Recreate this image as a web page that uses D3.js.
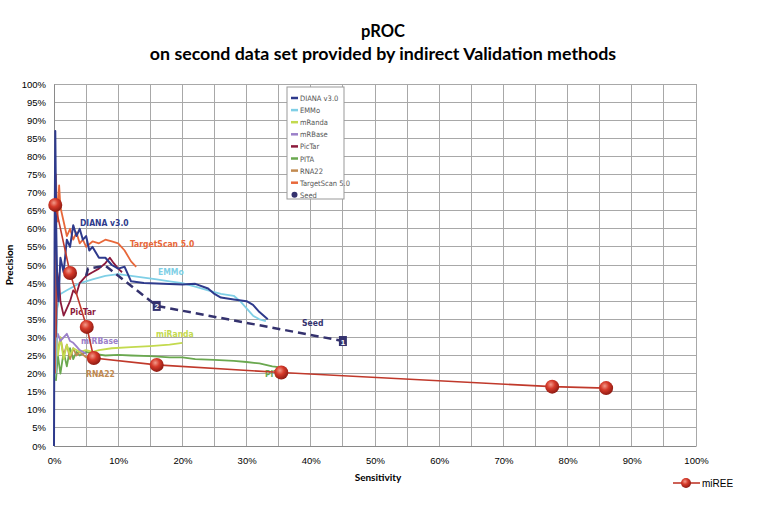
<!DOCTYPE html>
<html><head><meta charset="utf-8">
<script src="https://cdn.jsdelivr.net/npm/d3@7"></script>
<style>body{margin:0;background:#fff}svg{display:block}</style>
</head><body>
<svg id="c" width="761" height="506"></svg>
<script>
const xTicks = [0,10,20,30,40,50,60,70,80,90,100];
const yTicks = d3.range(0,101,5);
const titleLines = ["pROC","on second data set provided by indirect Validation methods"];
const legendNames = ["DIANA v3.0","EMMo","mRanda","mRBase","PicTar","PITA","RNA22","TargetScan 5.0","Seed"];

const diana = [[0,0],[0.1,60],[0.2,87],[0.35,60],[0.5,45],[0.7,40],[1,52],[1.5,48],[2,57],[2.5,55],[3,61],[3.5,58],[4,60],[4.5,57],[5,58],[5.5,54],[6,55],[7,52],[8,52],[9,50],[10,49],[11,49.5],[12,45.5],[14,45],[17,44.8],[20,44.6],[22,44.8],[24,43.5],[25,42],[26,41],[28,40.5],[30,40],[31,39],[32,37],[33.3,35]];
const emmo = [[0.3,20],[0.5,38],[1,42],[2,43],[3,44],[4,45],[5,45.5],[6,46],[8,47],[10,47.5],[12,47],[14,46.5],[16,46],[18,45.5],[20,45],[22,44],[24,43],[26,42],[28,41.5],[29,40],[30,38],[31,36],[32,35],[33,34.5]];
const miranda = [[0.3,32],[0.6,25],[1,30],[1.5,24],[2,28],[2.5,25],[3,27],[4,26],[5,26.5],[6,26],[7,26.5],[9,27],[12,27.3],[15,27.6],[18,28],[20,28.5]];
const mirbase = [[0.3,28],[0.6,31],[1,29],[1.5,30],[2,31],[2.5,29],[3,28.5],[3.5,27.5],[4,26.5],[4.5,26],[5,25.5]];
const pictar = [[0.3,30],[0.5,48],[0.8,45],[1,40],[1.5,36],[2,38],[2.5,40],[3,43],[3.5,42],[4,45],[5,47],[6,48],[7,49],[8,50.5],[8.7,52],[9.3,50.5],[10,49],[10.6,48]];
const pita = [[0.3,18],[0.6,25],[1,20],[1.5,26],[2,22],[2.5,27],[3,24],[3.5,26],[4,25],[5,26],[6,25.5],[8,25],[10,25.2],[12,25],[15,24.8],[18,24.5],[20,24.5],[22,24],[25,23.8],[28,23.5],[30,23.2],[32,22.8],[34,22],[35,21.8]];
const rna22 = [[0.3,32],[0.6,26],[1,30],[1.5,25],[2,28],[2.5,24],[3,27],[3.5,25],[4,26],[5,24.5],[6,25.5],[6.5,25]];
const targetscan = [[0.2,20],[0.3,75],[0.5,62],[0.8,72],[1,66],[1.5,62],[2,58],[2.5,60],[3,57],[3.5,59],[4,56],[4.5,57],[5,55],[6,56.5],[7,56],[8,57],[9,56.5],[10,56],[11,54],[12,51],[12.8,49.5]];
const seed = [[5,47],[5.3,49],[8,49.8],[16,38.7],[45,29]];
const seedMarks = [[16,38.7,"2"],[45,29,"1"]];
const miree = [[0.2,66.6],[2.5,47.8],[5.1,32.9],[6.2,24.3],[16,22.4],[35.4,20.3],[77.6,16.4],[86,16]];

const colors = {diana:"#2e3a8c",emmo:"#7fcfe6",miranda:"#c3da4e",mirbase:"#9b80c9",pictar:"#8c1a3c",pita:"#6aa84f",rna22:"#c28a50",targetscan:"#e8683a",seed:"#34326e",miree:"#c0392b"};

const svg = d3.select("#c");
const x = d3.scaleLinear().domain([0,100]).range([54,696]);
const y = d3.scaleLinear().domain([0,100]).range([446,84]);

// title
svg.selectAll("text.title").data(titleLines).join("text")
  .attr("x",383).attr("y",(d,i)=>37+i*23).attr("text-anchor","middle")
  .attr("font-family","Lato, 'Open Sans', sans-serif").attr("font-weight","bold")
  .attr("font-size",(d,i)=>i?17.8:16.5).attr("fill","#000").text(d=>d);

// grid
const g = svg.append("g");
g.selectAll("line.h").data(yTicks).join("line")
  .attr("x1",x(0)).attr("x2",x(100)).attr("y1",d=>y(d)).attr("y2",d=>y(d))
  .attr("stroke","#a8a8a8").attr("stroke-width",1).attr("shape-rendering","crispEdges");
g.selectAll("line.v").data(d3.range(0,101,5)).join("line")
  .attr("y1",y(0)).attr("y2",y(100)).attr("x1",d=>x(d)).attr("x2",d=>x(d))
  .attr("stroke","#a8a8a8").attr("stroke-width",1).attr("shape-rendering","crispEdges");

// axes
const ax = svg.append("g").attr("transform",`translate(0,${y(0)})`)
  .call(d3.axisBottom(x).tickValues(xTicks).tickFormat(d=>d+"%").tickSize(0).tickPadding(11));
const ay = svg.append("g").attr("transform",`translate(${x(0)},0)`)
  .call(d3.axisLeft(y).tickValues(yTicks).tickFormat(d=>d+"%").tickSize(0).tickPadding(8));
[ax,ay].forEach(a=>{a.select(".domain").attr("stroke","#8a8a8a");
  a.selectAll("text").attr("font-family","'Liberation Sans', Arial, sans-serif").attr("font-size",9.5).attr("fill","#000");});

svg.append("text").attr("transform","translate(13,265) rotate(-90)").attr("text-anchor","middle")
  .attr("font-family","Lato, sans-serif").attr("font-weight","bold").attr("font-size",10).text("Precision");
svg.append("text").attr("x",378).attr("y",481).attr("text-anchor","middle")
  .attr("font-family","Lato, sans-serif").attr("font-weight","bold").attr("font-size",10).text("Sensitivity");

const line = d3.line().x(d=>x(d[0])).y(d=>y(d[1]));
const series = [["pita",pita],["rna22",rna22],["miranda",miranda],["mirbase",mirbase],["emmo",emmo],["pictar",pictar],["targetscan",targetscan],["diana",diana]];
series.forEach(([k,data])=>{
  svg.append("path").datum(data).attr("d",line).attr("fill","none")
    .attr("stroke",colors[k]).attr("stroke-width",k==="diana"?2:1.8).attr("stroke-linejoin","round");
});
svg.append("path").datum(seed).attr("d",line).attr("fill","none")
  .attr("stroke",colors.seed).attr("stroke-width",2.5).attr("stroke-dasharray","8,5");
const sm = svg.selectAll("g.sm").data(seedMarks).join("g").attr("transform",d=>`translate(${x(d[0])},${y(d[1])})`);
sm.append("rect").attr("x",-4).attr("y",-5).attr("width",8).attr("height",10).attr("fill",colors.seed);
sm.append("text").attr("text-anchor","middle").attr("y",3.5).attr("font-size",8).attr("font-weight","bold")
  .attr("font-family","'Liberation Sans', sans-serif").attr("fill","#fff").text(d=>d[2]);

// curve labels
const labels = [["DIANA v3.0",80,226,"diana"],["TargetScan 5.0",130,247,"targetscan"],["EMMo",158,275,"emmo"],["PicTar",70,315,"pictar"],["miRBase",81,344,"mirbase"],["miRanda",156,337,"miranda"],["RNA22",86,377,"rna22"],["PITA",265,377,"pita"],["Seed",302,326,"seed"]];
svg.selectAll("text.cl").data(labels).join("text")
  .attr("x",d=>d[1]).attr("y",d=>d[2]).attr("fill",d=>colors[d[3]])
  .attr("font-family","'Liberation Sans Narrow','DejaVu Sans Condensed',sans-serif").attr("font-weight","bold")
  .attr("font-size",8.5).text(d=>d[0]);

// inner legend
const lg = svg.append("g");
lg.append("rect").attr("x",287).attr("y",87).attr("width",57).attr("height",112).attr("fill","#fff").attr("stroke","#999");
const lkeys = ["diana","emmo","miranda","mirbase","pictar","pita","rna22","targetscan","seed"];
const li = lg.selectAll("g").data(legendNames).join("g").attr("transform",(d,i)=>`translate(291,${98+i*12.1})`);
li.each(function(d,i){
  const s=d3.select(this);
  if(i<8) s.append("line").attr("x1",0).attr("x2",7).attr("stroke",colors[lkeys[i]]).attr("stroke-width",2.5);
  else s.append("circle").attr("cx",3.5).attr("r",3).attr("fill",colors.seed);
});
li.append("text").attr("x",9).attr("y",3).attr("font-size",7.5).attr("fill","#555")
  .attr("font-family","'Liberation Sans Narrow','DejaVu Sans Condensed',sans-serif").text(d=>d);

// miREE
const defs = svg.append("defs");
const rg = defs.append("radialGradient").attr("id","rg").attr("cx","40%").attr("cy","35%").attr("r","65%");
rg.append("stop").attr("offset","0%").attr("stop-color","#f29a8a");
rg.append("stop").attr("offset","45%").attr("stop-color","#d63a2a");
rg.append("stop").attr("offset","100%").attr("stop-color","#8e1a12");
svg.append("path").datum(miree).attr("d",line).attr("fill","none").attr("stroke",colors.miree).attr("stroke-width",1.6);
svg.selectAll("circle.m").data(miree).join("circle").attr("cx",d=>x(d[0])).attr("cy",d=>y(d[1])).attr("r",7)
  .attr("fill","url(#rg)");

// bottom legend
svg.append("line").attr("x1",673).attr("x2",700).attr("y1",483).attr("y2",483).attr("stroke",colors.miree).attr("stroke-width",1.6);
svg.append("circle").attr("cx",686).attr("cy",483).attr("r",5).attr("fill","url(#rg)");
svg.append("text").attr("x",702).attr("y",487).attr("font-size",10).attr("font-family","'Liberation Sans', sans-serif").text("miREE");
</script>
</body></html>
